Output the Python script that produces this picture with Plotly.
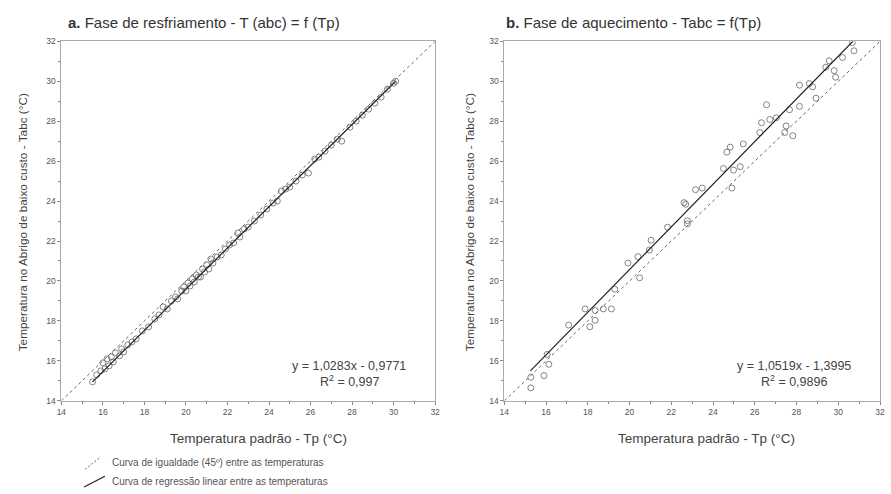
import plotly.graph_objects as go

# ---------------- data ----------------
# Panel a: Fase de resfriamento
tp_a = [15.5, 15.7, 15.9, 16.0, 16.1, 16.2, 16.3, 16.4, 16.5, 16.6, 16.8, 16.9, 17.0, 17.2,
        17.4, 17.6, 17.9, 18.2, 18.5, 18.7, 18.9, 19.1, 19.3, 19.5, 19.6, 19.8, 19.9, 20.0,
        20.1, 20.2, 20.3, 20.4, 20.5, 20.6, 20.7, 20.8, 20.9, 21.0, 21.1, 21.2, 21.3, 21.5,
        21.7, 21.9, 22.1, 22.3, 22.5, 22.6, 22.8, 23.0, 23.3, 23.6, 23.9, 24.2, 24.4, 24.6,
        24.8, 25.0, 25.3, 25.6, 25.9, 26.2, 26.4, 26.7, 27.0, 27.3, 27.5, 27.9, 28.2, 28.5,
        28.8, 29.1, 29.4, 29.7, 30.0, 30.1]
tabc_a = [14.95, 15.3, 15.5, 15.9, 15.6, 16.1, 15.75, 16.2, 15.95, 16.4, 16.25, 16.6, 16.45, 16.8,
          16.95, 17.1, 17.5, 17.7, 18.1, 18.3, 18.7, 18.6, 19.0, 19.2, 19.1, 19.5, 19.7, 19.5,
          19.9, 19.75, 20.1, 19.95, 20.3, 20.2, 20.2, 20.6, 20.45, 20.8, 20.6, 21.1, 20.9, 21.2,
          21.3, 21.6, 21.8, 21.9, 22.4, 22.2, 22.6, 22.7, 23.0, 23.3, 23.6, 23.9, 24.0, 24.5,
          24.6, 24.7, 25.0, 25.3, 25.4, 26.1, 26.2, 26.5, 26.8, 27.1, 27.0, 27.7, 28.0, 28.3,
          28.6, 28.9, 29.2, 29.6, 29.9, 30.0]
reg_a_x = [15.5, 30.1]
reg_a_y = [14.95, 30.0]

# Panel b: Fase de aquecimento
tp_b = [15.27, 15.27, 15.9, 16.13, 16.05, 17.08, 18.1, 18.35, 17.87, 18.35, 18.74, 19.13, 19.29,
        19.92, 20.48, 20.4, 20.95, 21.03, 21.82, 22.77, 22.69, 22.61, 23.16, 23.48, 22.77, 24.9,
        24.5, 24.98, 25.3, 24.66, 24.82, 25.45, 26.24, 26.32, 26.56, 26.72, 27.03, 27.5, 27.43,
        27.82, 27.66, 28.14, 28.14, 28.61, 28.77, 28.93, 29.56, 29.4, 29.8, 30.2, 30.67, 30.75,
        29.87]
tabc_b = [14.65, 15.18, 15.26, 15.83, 16.32, 17.79, 17.71, 18.03, 18.6, 18.52, 18.6, 18.6, 19.59,
          20.9, 20.16, 21.22, 21.55, 22.04, 22.69, 23.02, 23.84, 23.92, 24.57, 24.65, 22.86, 24.65,
          25.63, 25.55, 25.72, 26.45, 26.7, 26.86, 27.43, 27.92, 28.82, 28.08, 28.17, 27.76, 27.43,
          27.27, 28.57, 28.74, 29.8, 29.88, 29.72, 29.15, 31.02, 30.7, 30.53, 31.19, 31.93, 31.52,
          30.2]
reg_b_x = [15.25, 30.7]
reg_b_y = [15.5, 32.0]

eq_x = [14, 32]
eq_y = [14, 32]

ticks = [14, 16, 18, 20, 22, 24, 26, 28, 30, 32]

titles = ["<b>a.</b> Fase de resfriamento - T (abc) = f (Tp)",
          "<b>b.</b> Fase de aquecimento - Tabc = f(Tp)"]
eqs = [("y = 1,0283x - 0,9771", "R<sup>2</sup> = 0,997"),
       ("y = 1,0519x - 1,3995", "R<sup>2</sup> = 0,9896")]
xtitle = "Temperatura padrão - Tp (°C)"
ytitle = "Temperatura no Abrigo de baixo custo - Tabc (°C)"
legend_labels = ["Curva de igualdade (45º) entre as temperaturas",
                 "Curva de regressão linear entre as temperaturas"]

# ---------------- figure ----------------
W, H = 891, 494
FONT = "Liberation Sans, Arial, sans-serif"
fig = go.Figure()

def px_x(p):
    return p / W

def px_y(p):
    return 1 - p / H

panels = [
    dict(x=tp_a, y=tabc_a, rx=reg_a_x, ry=reg_a_y, xa="x", ya="y"),
    dict(x=tp_b, y=tabc_b, rx=reg_b_x, ry=reg_b_y, xa="x2", ya="y2"),
]
for p in panels:
    fig.add_trace(go.Scatter(x=eq_x, y=eq_y, mode="lines", xaxis=p["xa"], yaxis=p["ya"],
                             line=dict(color="#666", width=1, dash="3px,3px"), showlegend=False))
    fig.add_trace(go.Scatter(x=p["x"], y=p["y"], mode="markers", xaxis=p["xa"], yaxis=p["ya"],
                             marker=dict(symbol="circle-open", size=6, color="#666",
                                         line=dict(width=0.8)), showlegend=False))
    fig.add_trace(go.Scatter(x=p["rx"], y=p["ry"], mode="lines", xaxis=p["xa"], yaxis=p["ya"],
                             line=dict(color="#222", width=1.2), showlegend=False))

axis_common = dict(range=[14, 32], tickvals=ticks, ticks="outside", ticklen=3, tickwidth=1,
                   tickcolor="#888", showline=True, linecolor="#aaa", linewidth=1, mirror=True,
                   showgrid=False, zeroline=False,
                   minor=dict(dtick=1, tick0=14, ticks="outside", ticklen=2, tickcolor="#888"),
                   tickfont=dict(family=FONT, size=8.5, color="#555"))

ydom = [px_y(404), px_y(37)]
fig.update_layout(
    width=W, height=H, margin=dict(l=0, r=0, t=0, b=0),
    paper_bgcolor="white", plot_bgcolor="white",
    xaxis=dict(domain=[px_x(57), px_x(435)], anchor="y", **axis_common),
    yaxis=dict(domain=ydom, anchor="x", **axis_common),
    xaxis2=dict(domain=[px_x(505), px_x(885)], anchor="y2", **axis_common),
    yaxis2=dict(domain=ydom, anchor="x2", **axis_common),
)

ann = []
# titles
for tx, t in zip([62, 505], titles):
    ann.append(dict(x=px_x(tx), y=px_y(18), xref="paper", yref="paper", text=t, showarrow=False,
                    xanchor="left", yanchor="middle", font=dict(family=FONT, size=15, color="#333")))
# axis titles
for cx in [(57 + 435) / 2 + 10, (505 + 885) / 2 + 14]:
    ann.append(dict(x=px_x(cx), y=px_y(442), xref="paper", yref="paper", text=xtitle,
                    showarrow=False, xanchor="center", yanchor="middle",
                    font=dict(family=FONT, size=13.5, color="#444")))
for yx in [18, 470]:
    ann.append(dict(x=px_x(yx), y=px_y(222), xref="paper", yref="paper", text=ytitle,
                    showarrow=False, textangle=-90, xanchor="center", yanchor="middle",
                    font=dict(family=FONT, size=11.8, color="#444")))
# equations
for cx, (e1, e2) in zip([348, 798], eqs):
    ann.append(dict(x=px_x(cx), y=px_y(368), xref="paper", yref="paper", text=e1,
                    showarrow=False, xanchor="center", yanchor="middle",
                    font=dict(family=FONT, size=12.5, color="#444")))
    ann.append(dict(x=px_x(cx), y=px_y(384), xref="paper", yref="paper", text=e2,
                    showarrow=False, xanchor="center", yanchor="middle",
                    font=dict(family=FONT, size=12.5, color="#444")))
# legend texts
for ly, lab in zip([467, 486], legend_labels):
    ann.append(dict(x=px_x(106), y=px_y(ly), xref="paper", yref="paper", text=lab,
                    showarrow=False, xanchor="left", yanchor="middle",
                    font=dict(family=FONT, size=10, color="#555")))
fig.update_layout(annotations=ann)

# legend samples
fig.add_shape(type="line", xref="paper", yref="paper", x0=px_x(81), y0=px_y(474),
              x1=px_x(97), y1=px_y(461), line=dict(color="#666", width=1, dash="2px,2px"))
fig.add_shape(type="line", xref="paper", yref="paper", x0=px_x(80), y0=px_y(492),
              x1=px_x(101), y1=px_y(481), line=dict(color="#222", width=1.2))

fig.write_html("out.html")
